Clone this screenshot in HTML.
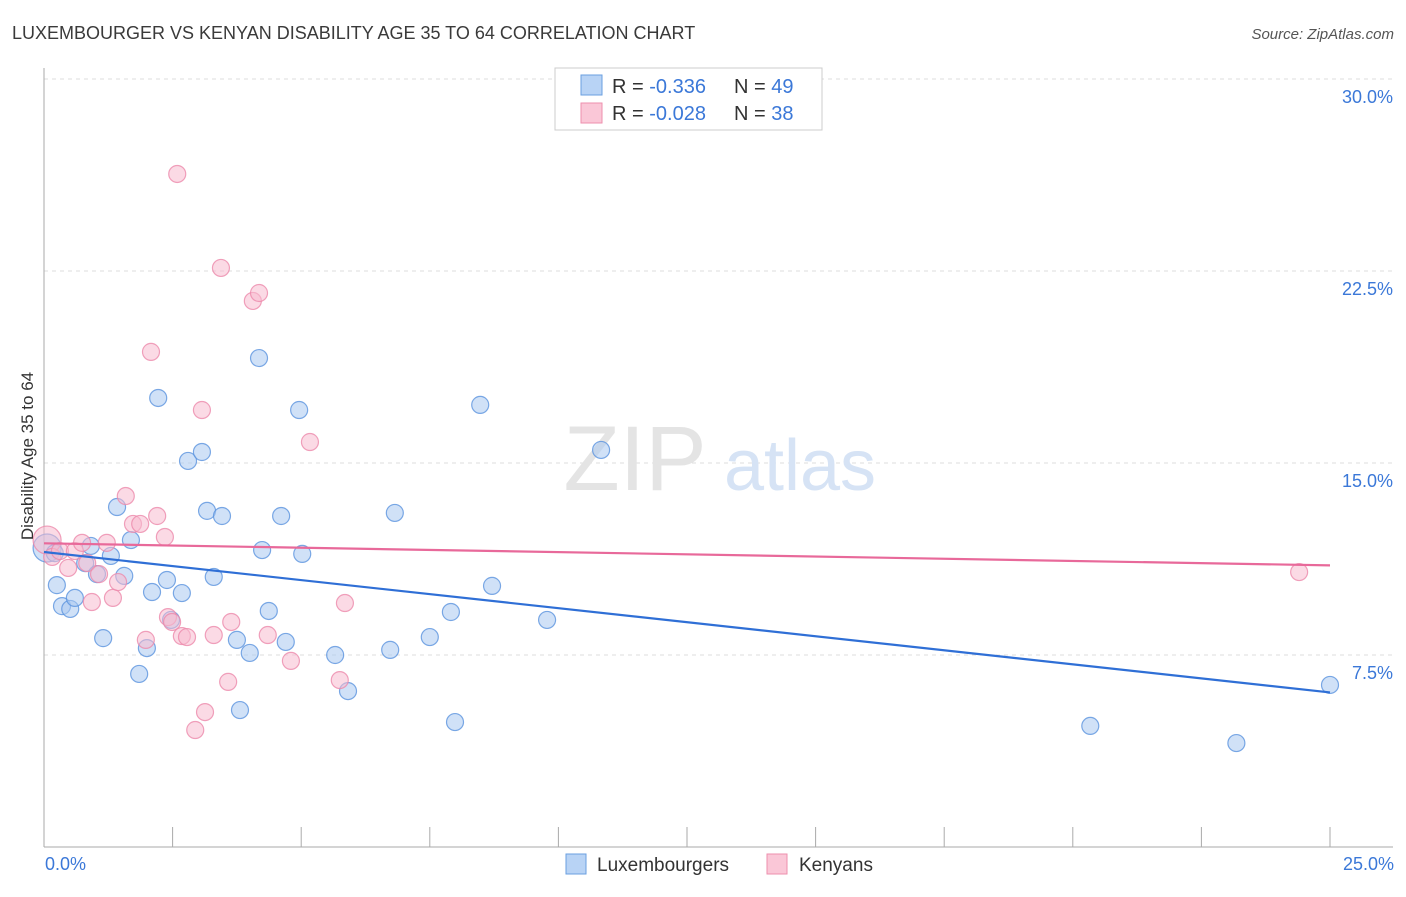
<!DOCTYPE html>
<html><head><meta charset="utf-8">
<style>
body{margin:0;background:#fff;font-family:"Liberation Sans",sans-serif;}
svg text{font-family:"Liberation Sans",sans-serif;}
</style></head>
<body>
<svg id="chart" width="1406" height="892" viewBox="0 0 1406 892" xmlns="http://www.w3.org/2000/svg">
<text x="12" y="39" font-size="18" fill="#3a3a3a">LUXEMBOURGER VS KENYAN DISABILITY AGE 35 TO 64 CORRELATION CHART</text>
<text x="1394" y="39" font-size="15" fill="#555" font-style="italic" text-anchor="end">Source: ZipAtlas.com</text>
<g id="grid"></g>
<g>
<text x="635" y="490" font-size="92" font-family="Liberation Serif" fill="#e4e4e4" text-anchor="middle">ZIP</text>
<text x="800" y="490" font-size="72" fill="#d6e3f5" text-anchor="middle">atlas</text>
</g>
<g id="axes"></g>
<g id="pts-blue"></g>
<g id="pts-pink"></g>
<g id="trends"></g>
<text transform="translate(33,456) rotate(-90)" font-size="17" fill="#333" text-anchor="middle">Disability Age 35 to 64</text>
<text x="45" y="870" font-size="18" fill="#3b78d8">0.0%</text>
<text x="1394" y="870" font-size="18" fill="#3b78d8" text-anchor="end">25.0%</text>
<g>
<rect x="555" y="68" width="267" height="62" fill="#fff" stroke="#ccc"/>
<rect x="581" y="75" width="21" height="20" fill="#b8d3f5" stroke="#6a9fe0"/>
<rect x="581" y="103" width="21" height="20" fill="#fac7d7" stroke="#ee8fae"/>
<text x="612" y="93" font-size="20" fill="#333">R = <tspan fill="#3b78d8">-0.336</tspan></text>
<text x="734" y="93" font-size="20" fill="#333">N = <tspan fill="#3b78d8">49</tspan></text>
<text x="612" y="120" font-size="20" fill="#333">R = <tspan fill="#3b78d8">-0.028</tspan></text>
<text x="734" y="120" font-size="20" fill="#333">N = <tspan fill="#3b78d8">38</tspan></text>
</g>
<g>
<rect x="566" y="854" width="20" height="20" fill="#b8d3f5" stroke="#6a9fe0"/>
<text x="597" y="871" font-size="19" fill="#333">Luxembourgers</text>
<rect x="767" y="854" width="20" height="20" fill="#fac7d7" stroke="#ee8fae"/>
<text x="799" y="871" font-size="19" fill="#333">Kenyans</text>
</g>
</svg>
<script>
const yTicks=[7.5,15,22.5,30];
const yTickLabels=["7.5%","15.0%","22.5%","30.0%"];
const xTicks=[0,2.5,5,7.5,10,12.5,15,17.5,20,22.5,25];
const luxX=[0.06,0.21,0.25,0.35,0.51,0.60,0.80,0.91,1.03,1.15,1.30,1.42,1.56,1.69,1.85,2.00,2.10,2.22,2.39,2.47,2.68,2.80,3.07,3.17,3.30,3.46,3.75,3.81,4.00,4.18,4.24,4.37,4.61,4.70,4.96,5.02,5.66,5.91,6.73,6.82,7.50,7.91,7.99,8.48,8.71,9.78,10.83,20.34,23.18,25.0];
const luxY=[11.68,11.48,10.23,9.41,9.30,9.73,11.09,11.76,10.66,8.16,11.37,13.28,10.59,11.99,6.76,7.77,9.96,17.54,10.43,8.87,9.92,15.08,15.43,13.13,10.55,12.93,8.09,5.35,7.58,19.10,11.60,9.22,12.93,8.01,17.07,11.45,7.50,6.09,7.70,13.05,8.20,9.18,4.88,17.27,10.20,8.87,15.51,4.73,4.06,6.33];
const kenX=[0.06,0.16,0.31,0.47,0.60,0.74,0.84,0.93,1.07,1.22,1.34,1.44,1.59,1.73,1.87,1.98,2.08,2.20,2.35,2.41,2.49,2.59,2.68,2.78,2.94,3.07,3.13,3.30,3.44,3.58,3.64,4.06,4.18,4.35,4.80,5.17,5.75,5.85,24.40];
const kenY=[11.99,11.33,11.56,10.90,11.56,11.88,11.09,9.57,10.66,11.88,9.73,10.35,13.71,12.62,12.62,8.09,19.34,12.93,12.11,8.98,8.79,26.29,8.24,8.20,4.57,17.07,5.27,8.28,22.62,6.45,8.79,21.33,21.64,8.28,7.27,15.82,6.52,9.53,10.74];

const NS="http://www.w3.org/2000/svg";
const X0=44,X1=1330,Y0=847,PXY=25.6;
const sx=v=>X0+(X1-X0)*v/25;
const sy=v=>Y0-v*PXY;
function mk(tag,attrs,parent){const e=document.createElementNS(NS,tag);for(const k in attrs)e.setAttribute(k,attrs[k]);parent.appendChild(e);return e;}
const grid=document.getElementById('grid'),axes=document.getElementById('axes');
yTicks.forEach((t,i)=>{
  const l=mk('line',{x1:X0,x2:1393,y1:sy(t),y2:sy(t),stroke:'#ddd','stroke-dasharray':'4,4'},grid);
  
  
  const tx=mk('text',{x:1393,y:sy(t)+24,'font-size':18,fill:'#3b78d8','text-anchor':'end'},axes);
  tx.textContent=yTickLabels[i];
  
  
});
mk('line',{x1:X0,x2:X0,y1:68,y2:Y0,stroke:'#aaa'},axes);
mk('line',{x1:X0,x2:1393,y1:Y0,y2:Y0,stroke:'#aaa'},axes);
xTicks.forEach(t=>{
  const l=mk('line',{x1:sx(t),x2:sx(t),y1:827,y2:Y0,stroke:'#aaa'},axes);
  
  
});
function drawPts(xs,ys,g,fill,stroke,name){
  xs.forEach((x,i)=>{
    const r=i===0?14:8.5;
    const c=mk('circle',{cx:sx(x),cy:sy(ys[i]),r:r,fill:fill,'fill-opacity':0.55,stroke:stroke,'stroke-width':1.2,'stroke-opacity':0.8},g);
    
    
  });
}
drawPts(luxX,luxY,document.getElementById('pts-blue'),'#a9c8f0','#5b93de','luxembourger-point');
drawPts(kenX,kenY,document.getElementById('pts-pink'),'#f8bcd0','#ec8aab','kenyan-point');
function reg(xs,ys){const n=xs.length;let mx=0,my=0;xs.forEach((x,i)=>{mx+=x;my+=ys[i];});mx/=n;my/=n;let sxy=0,sxx=0;xs.forEach((x,i)=>{sxy+=(x-mx)*(ys[i]-my);sxx+=(x-mx)*(x-mx);});const b=sxy/sxx;return [my-b*mx,b];}
const tg=document.getElementById('trends');
[[luxX,luxY,'#2f6fd6','luxembourger-trend'],[kenX,kenY,'#e8699a','kenyan-trend']].forEach(([xs,ys,col,nm])=>{
  const [a,b]=reg(xs,ys);
  const l=mk('line',{x1:sx(0),y1:sy(a),x2:sx(25),y2:sy(a+b*25),stroke:col,'stroke-width':2.2},tg);
  
  
});
</script>
</body></html>
